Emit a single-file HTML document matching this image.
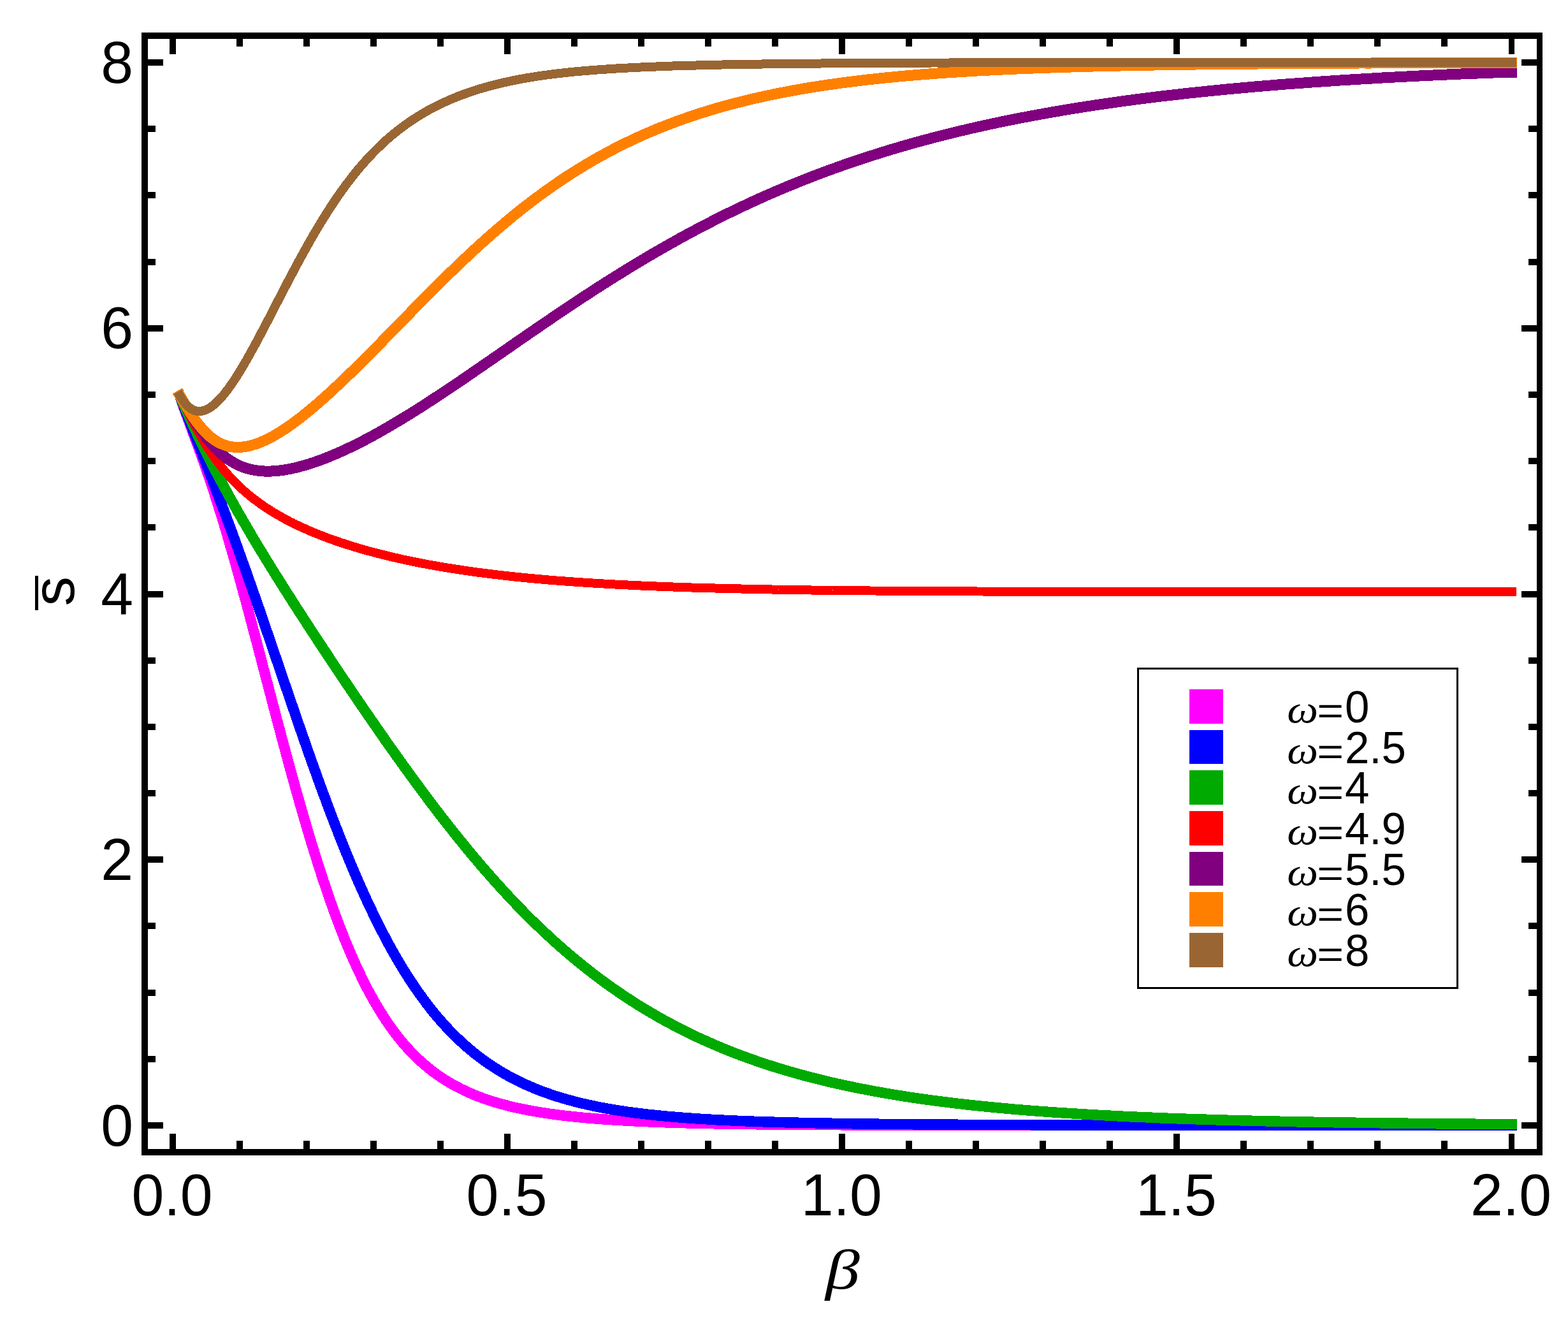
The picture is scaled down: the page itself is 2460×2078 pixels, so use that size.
<!DOCTYPE html>
<html><head><meta charset="utf-8"><title>s vs beta</title>
<style>
html,body{margin:0;padding:0;background:#fff;}
body{width:2460px;height:2078px;overflow:hidden;}
svg{display:block;}
.t{font-family:"Liberation Sans",sans-serif;font-size:90px;fill:#000;}
.l{font-family:"Liberation Sans",sans-serif;font-size:68px;fill:#000;}
.i{font-family:"Liberation Serif",serif;font-style:italic;}
</style></head><body>
<svg width="2460" height="2078" viewBox="0 0 2460 2078">
<rect x="0" y="0" width="2460" height="2078" fill="#fff"/>
<g fill="none" stroke-linejoin="round" stroke-linecap="square" shape-rendering="crispEdges">
<path d="M282.3,621.7 L284.2,627.3 L286.1,632.7 L288.0,638.1 L289.9,643.4 L291.9,648.7 L293.8,653.9 L295.7,659.1 L297.6,664.3 L299.5,669.5 L301.4,674.6 L303.3,679.8 L305.2,685.0 L307.1,690.1 L309.0,695.3 L311.0,700.5 L312.9,705.8 L314.8,711.1 L316.7,716.4 L318.6,721.7 L320.5,727.1 L322.4,732.6 L324.3,738.1 L326.2,743.6 L328.2,749.2 L330.1,754.9 L332.0,760.6 L333.9,766.4 L335.8,772.2 L337.7,778.1 L339.6,784.1 L341.5,790.1 L343.4,796.1 L345.3,802.3 L347.3,808.4 L349.2,814.7 L351.1,821.0 L353.0,827.3 L354.9,833.7 L356.8,840.2 L358.7,846.7 L360.6,853.3 L362.5,859.9 L364.5,866.5 L366.4,873.2 L368.3,880.0 L370.2,886.8 L372.1,893.6 L374.0,900.5 L375.9,907.4 L377.8,914.3 L379.7,921.3 L381.6,928.3 L383.6,935.3 L385.5,942.4 L387.4,949.5 L389.3,956.6 L391.2,963.8 L393.1,970.9 L395.0,978.1 L396.9,985.3 L398.8,992.6 L400.8,999.8 L402.7,1007.1 L404.6,1014.3 L406.5,1021.6 L408.4,1028.9 L410.3,1036.2 L412.2,1043.5 L414.1,1050.8 L416.0,1058.1 L417.9,1065.4 L419.9,1072.7 L421.8,1079.9 L423.7,1087.2 L425.6,1094.5 L427.5,1101.8 L429.4,1109.1 L431.3,1116.3 L433.2,1123.6 L435.1,1130.8 L437.1,1138.0 L439.0,1145.2 L440.9,1152.4 L442.8,1159.6 L444.7,1166.7 L446.6,1173.8 L448.5,1180.9 L450.4,1188.0 L452.3,1195.0 L454.2,1202.0 L456.2,1209.0 L458.1,1216.0 L460.0,1222.9 L461.9,1229.8 L463.8,1236.6 L465.7,1243.4 L467.6,1250.2 L469.5,1256.9 L471.4,1263.7 L473.4,1270.3 L475.3,1276.9 L477.2,1283.5 L479.1,1290.0 L481.0,1296.5 L482.9,1303.0 L484.8,1309.4 L486.7,1315.7 L488.6,1322.0 L490.5,1328.3 L492.5,1334.5 L494.4,1340.6 L496.3,1346.7 L498.2,1352.8 L500.1,1358.8 L502.0,1364.7 L503.9,1370.6 L505.8,1376.4 L507.7,1382.2 L509.7,1387.9 L511.6,1393.6 L513.5,1399.2 L515.4,1404.7 L517.3,1410.2 L519.2,1415.6 L521.1,1421.0 L523.0,1426.3 L524.9,1431.6 L526.8,1436.8 L528.8,1441.9 L530.7,1447.0 L532.6,1452.0 L534.5,1456.9 L536.4,1461.8 L538.3,1466.7 L540.2,1471.5 L542.1,1476.2 L544.0,1480.8 L546.0,1485.4 L547.9,1490.0 L549.8,1494.4 L551.7,1498.9 L553.6,1503.2 L555.5,1507.5 L557.4,1511.7 L559.3,1515.9 L561.2,1520.1 L563.1,1524.1 L565.1,1528.1 L567.0,1532.1 L568.9,1536.0 L570.8,1539.8 L572.7,1543.6 L574.6,1547.3 L576.5,1551.0 L578.4,1554.6 L580.3,1558.1 L582.3,1561.6 L584.2,1565.1 L586.1,1568.5 L589.8,1574.9 L593.5,1581.1 L597.2,1587.1 L600.9,1593.0 L604.5,1598.7 L608.2,1604.1 L611.9,1609.4 L615.6,1614.6 L619.3,1619.5 L623.0,1624.4 L626.7,1629.0 L630.4,1633.5 L634.1,1637.9 L637.8,1642.1 L641.5,1646.1 L645.2,1650.0 L648.9,1653.8 L652.6,1657.5 L656.3,1661.0 L660.0,1664.5 L663.7,1667.8 L667.4,1670.9 L671.0,1674.0 L674.7,1677.0 L678.4,1679.9 L682.1,1682.6 L685.8,1685.3 L689.5,1687.9 L693.2,1690.4 L696.9,1692.8 L700.6,1695.1 L704.3,1697.3 L708.0,1699.5 L711.7,1701.6 L715.4,1703.6 L719.1,1705.5 L722.8,1707.4 L726.5,1709.2 L730.2,1711.0 L733.8,1712.7 L737.5,1714.3 L741.2,1715.9 L744.9,1717.4 L748.6,1718.9 L752.3,1720.3 L756.0,1721.7 L759.7,1723.0 L763.4,1724.3 L767.1,1725.5 L770.8,1726.7 L774.5,1727.9 L778.2,1729.0 L781.9,1730.1 L785.6,1731.1 L789.3,1732.2 L793.0,1733.1 L796.7,1734.1 L800.3,1735.0 L804.0,1735.9 L807.7,1736.8 L811.4,1737.6 L815.1,1738.4 L818.8,1739.2 L822.5,1739.9 L826.2,1740.6 L829.9,1741.4 L833.6,1742.0 L837.3,1742.7 L841.0,1743.3 L844.7,1744.0 L848.4,1744.6 L852.1,1745.2 L855.8,1745.7 L859.5,1746.3 L863.2,1746.8 L866.8,1747.3 L870.5,1747.8 L874.2,1748.3 L877.9,1748.8 L881.6,1749.2 L885.3,1749.7 L889.0,1750.1 L892.7,1750.5 L896.4,1750.9 L900.1,1751.3 L903.8,1751.7 L907.5,1752.1 L911.2,1752.4 L914.9,1752.8 L918.6,1753.1 L922.3,1753.4 L926.0,1753.7 L929.6,1754.1 L933.3,1754.3 L937.0,1754.6 L940.7,1754.9 L944.4,1755.2 L948.1,1755.5 L951.8,1755.7 L955.5,1756.0 L959.2,1756.2 L962.9,1756.5 L966.6,1756.7 L970.3,1756.9 L974.0,1757.1 L977.7,1757.3 L981.4,1757.5 L985.1,1757.7 L988.8,1757.9 L992.5,1758.1 L996.1,1758.3 L999.8,1758.5 L1003.5,1758.7 L1007.2,1758.8 L1010.9,1759.0 L1014.6,1759.2 L1018.3,1759.3 L1022.0,1759.5 L1025.7,1759.6 L1029.4,1759.7 L1033.1,1759.9 L1036.8,1760.0 L1040.5,1760.1 L1044.2,1760.3 L1047.9,1760.4 L1051.6,1760.5 L1055.3,1760.6 L1059.0,1760.8 L1062.6,1760.9 L1066.3,1761.0 L1070.0,1761.1 L1073.7,1761.2 L1077.4,1761.3 L1081.1,1761.4 L1084.8,1761.5 L1088.5,1761.6 L1092.2,1761.6 L1095.9,1761.7 L1099.6,1761.8 L1103.3,1761.9 L1107.0,1762.0 L1110.7,1762.1 L1114.4,1762.1 L1118.1,1762.2 L1121.8,1762.3 L1125.4,1762.3 L1129.1,1762.4 L1132.8,1762.5 L1136.5,1762.5 L1140.2,1762.6 L1143.9,1762.7 L1147.6,1762.7 L1151.3,1762.8 L1155.0,1762.8 L1158.7,1762.9 L1162.4,1762.9 L1166.1,1763.0 L1169.8,1763.0 L1173.5,1763.1 L1177.2,1763.1 L1180.9,1763.2 L1184.6,1763.2 L1188.3,1763.3 L1191.9,1763.3 L1195.6,1763.4 L1199.3,1763.4 L1203.0,1763.4 L1206.7,1763.5 L1210.4,1763.5 L1214.1,1763.5 L1217.8,1763.6 L1221.5,1763.6 L1225.2,1763.6 L1228.9,1763.7 L1232.6,1763.7 L1236.3,1763.7 L1240.0,1763.8 L1243.7,1763.8 L1247.4,1763.8 L1251.1,1763.9 L1254.8,1763.9 L1258.4,1763.9 L1262.1,1763.9 L1265.8,1764.0 L1269.5,1764.0 L1273.2,1764.0 L1276.9,1764.0 L1280.6,1764.0 L1284.3,1764.1 L1288.0,1764.1 L1291.7,1764.1 L1295.4,1764.1 L1299.1,1764.1 L1302.8,1764.2 L1306.5,1764.2 L1310.2,1764.2 L1313.9,1764.2 L1317.6,1764.2 L1321.2,1764.3 L1330.1,1764.3 L1338.9,1764.3 L1347.7,1764.4 L1356.6,1764.4 L1365.4,1764.4 L1374.2,1764.4 L1383.0,1764.5 L1391.9,1764.5 L1400.7,1764.5 L1409.5,1764.5 L1418.3,1764.6 L1427.2,1764.6 L1436.0,1764.6 L1444.8,1764.6 L1453.6,1764.6 L1462.5,1764.6 L1471.3,1764.7 L1480.1,1764.7 L1488.9,1764.7 L1497.8,1764.7 L1506.6,1764.7 L1515.4,1764.7 L1524.2,1764.7 L1533.1,1764.7 L1541.9,1764.7 L1550.7,1764.7 L1559.5,1764.7 L1568.4,1764.8 L1577.2,1764.8 L1586.0,1764.8 L1594.8,1764.8 L1603.7,1764.8 L1612.5,1764.8 L1621.3,1764.8 L1630.1,1764.8 L1639.0,1764.8 L1647.8,1764.8 L1656.6,1764.8 L1665.4,1764.8 L1674.3,1764.8 L1683.1,1764.8 L1691.9,1764.8 L1700.8,1764.8 L1709.6,1764.8 L1718.4,1764.8 L1727.2,1764.8 L1736.1,1764.8 L1744.9,1764.8 L1753.7,1764.8 L1762.5,1764.8 L1771.4,1764.8 L1780.2,1764.8 L1789.0,1764.8 L1797.8,1764.8 L1806.7,1764.8 L1815.5,1764.8 L1824.3,1764.8 L1833.1,1764.8 L1842.0,1764.8 L1850.8,1764.8 L1859.6,1764.8 L1868.4,1764.8 L1877.3,1764.8 L1886.1,1764.8 L1894.9,1764.8 L1903.7,1764.8 L1912.6,1764.8 L1921.4,1764.8 L1930.2,1764.8 L1939.0,1764.8 L1947.9,1764.8 L1956.7,1764.8 L1965.5,1764.8 L1974.3,1764.8 L1983.2,1764.8 L1992.0,1764.8 L2000.8,1764.8 L2009.6,1764.8 L2018.5,1764.8 L2027.3,1764.8 L2036.1,1764.8 L2045.0,1764.8 L2053.8,1764.8 L2062.6,1764.8 L2071.4,1764.8 L2080.3,1764.8 L2089.1,1764.8 L2097.9,1764.8 L2106.7,1764.8 L2115.6,1764.8 L2124.4,1764.8 L2133.2,1764.8 L2142.0,1764.8 L2150.9,1764.8 L2159.7,1764.8 L2168.5,1764.8 L2177.3,1764.8 L2186.2,1764.8 L2195.0,1764.8 L2203.8,1764.8 L2212.6,1764.8 L2221.5,1764.8 L2230.3,1764.8 L2239.1,1764.8 L2247.9,1764.8 L2256.8,1764.8 L2265.6,1764.8 L2274.4,1764.9 L2283.2,1764.9 L2292.1,1764.9 L2300.9,1764.9 L2309.7,1764.9 L2318.5,1764.9 L2327.4,1764.9 L2336.2,1764.9 L2345.0,1764.9 L2353.8,1764.9 L2362.7,1764.9 L2371.5,1764.9" stroke="#ff00ff" stroke-width="16.5"/>
<path d="M282.3,621.5 L284.2,626.5 L286.1,631.5 L288.0,636.5 L289.9,641.5 L291.9,646.4 L293.8,651.4 L295.7,656.3 L297.6,661.2 L299.5,666.1 L301.4,671.0 L303.3,675.9 L305.2,680.8 L307.1,685.7 L309.0,690.6 L311.0,695.5 L312.9,700.4 L314.8,705.3 L316.7,710.2 L318.6,715.1 L320.5,720.0 L322.4,724.9 L324.3,729.9 L326.2,734.8 L328.2,739.7 L330.1,744.7 L332.0,749.7 L333.9,754.7 L335.8,759.6 L337.7,764.6 L339.6,769.7 L341.5,774.7 L343.4,779.7 L345.3,784.8 L347.3,789.9 L349.2,795.0 L351.1,800.1 L353.0,805.2 L354.9,810.3 L356.8,815.5 L358.7,820.6 L360.6,825.8 L362.5,831.0 L364.5,836.2 L366.4,841.5 L368.3,846.7 L370.2,852.0 L372.1,857.2 L374.0,862.5 L375.9,867.8 L377.8,873.2 L379.7,878.5 L381.6,883.9 L383.6,889.2 L385.5,894.6 L387.4,900.0 L389.3,905.4 L391.2,910.8 L393.1,916.3 L395.0,921.7 L396.9,927.2 L398.8,932.6 L400.8,938.1 L402.7,943.6 L404.6,949.1 L406.5,954.6 L408.4,960.2 L410.3,965.7 L412.2,971.3 L414.1,976.8 L416.0,982.4 L417.9,987.9 L419.9,993.5 L421.8,999.1 L423.7,1004.7 L425.6,1010.2 L427.5,1015.8 L429.4,1021.4 L431.3,1027.0 L433.2,1032.6 L435.1,1038.2 L437.1,1043.8 L439.0,1049.4 L440.9,1055.0 L442.8,1060.6 L444.7,1066.3 L446.6,1071.9 L448.5,1077.4 L450.4,1083.0 L452.3,1088.6 L454.2,1094.2 L456.2,1099.8 L458.1,1105.4 L460.0,1110.9 L461.9,1116.5 L463.8,1122.0 L465.7,1127.6 L467.6,1133.1 L469.5,1138.6 L471.4,1144.1 L473.4,1149.6 L475.3,1155.1 L477.2,1160.6 L479.1,1166.1 L481.0,1171.5 L482.9,1176.9 L484.8,1182.4 L486.7,1187.8 L488.6,1193.1 L490.5,1198.5 L492.5,1203.9 L494.4,1209.2 L496.3,1214.5 L498.2,1219.8 L500.1,1225.1 L502.0,1230.3 L503.9,1235.5 L505.8,1240.8 L507.7,1245.9 L509.7,1251.1 L511.6,1256.2 L513.5,1261.4 L515.4,1266.5 L517.3,1271.5 L519.2,1276.6 L521.1,1281.6 L523.0,1286.6 L524.9,1291.5 L526.8,1296.5 L528.8,1301.4 L530.7,1306.3 L532.6,1311.1 L534.5,1315.9 L536.4,1320.7 L538.3,1325.5 L540.2,1330.2 L542.1,1335.0 L544.0,1339.6 L546.0,1344.3 L547.9,1348.9 L549.8,1353.5 L551.7,1358.0 L553.6,1362.6 L555.5,1367.0 L557.4,1371.5 L559.3,1375.9 L561.2,1380.3 L563.1,1384.7 L565.1,1389.0 L567.0,1393.3 L568.9,1397.6 L570.8,1401.8 L572.7,1406.0 L574.6,1410.1 L576.5,1414.3 L578.4,1418.4 L580.3,1422.4 L582.3,1426.4 L584.2,1430.4 L586.1,1434.4 L589.8,1441.9 L593.5,1449.3 L597.2,1456.6 L600.9,1463.8 L604.5,1470.8 L608.2,1477.7 L611.9,1484.5 L615.6,1491.2 L619.3,1497.7 L623.0,1504.1 L626.7,1510.3 L630.4,1516.5 L634.1,1522.5 L637.8,1528.4 L641.5,1534.2 L645.2,1539.8 L648.9,1545.3 L652.6,1550.8 L656.3,1556.1 L660.0,1561.2 L663.7,1566.3 L667.4,1571.3 L671.0,1576.1 L674.7,1580.8 L678.4,1585.5 L682.1,1590.0 L685.8,1594.4 L689.5,1598.7 L693.2,1602.9 L696.9,1607.0 L700.6,1611.1 L704.3,1615.0 L708.0,1618.8 L711.7,1622.5 L715.4,1626.2 L719.1,1629.7 L722.8,1633.2 L726.5,1636.6 L730.2,1639.9 L733.8,1643.1 L737.5,1646.2 L741.2,1649.3 L744.9,1652.3 L748.6,1655.2 L752.3,1658.0 L756.0,1660.8 L759.7,1663.5 L763.4,1666.1 L767.1,1668.7 L770.8,1671.1 L774.5,1673.6 L778.2,1675.9 L781.9,1678.2 L785.6,1680.5 L789.3,1682.7 L793.0,1684.8 L796.7,1686.9 L800.3,1688.9 L804.0,1690.8 L807.7,1692.8 L811.4,1694.6 L815.1,1696.4 L818.8,1698.2 L822.5,1699.9 L826.2,1701.6 L829.9,1703.2 L833.6,1704.8 L837.3,1706.4 L841.0,1707.9 L844.7,1709.3 L848.4,1710.8 L852.1,1712.2 L855.8,1713.5 L859.5,1714.8 L863.2,1716.1 L866.8,1717.4 L870.5,1718.6 L874.2,1719.8 L877.9,1720.9 L881.6,1722.0 L885.3,1723.1 L889.0,1724.2 L892.7,1725.2 L896.4,1726.2 L900.1,1727.2 L903.8,1728.2 L907.5,1729.1 L911.2,1730.0 L914.9,1730.9 L918.6,1731.7 L922.3,1732.5 L926.0,1733.4 L929.6,1734.1 L933.3,1734.9 L937.0,1735.7 L940.7,1736.4 L944.4,1737.1 L948.1,1737.8 L951.8,1738.5 L955.5,1739.1 L959.2,1739.8 L962.9,1740.4 L966.6,1741.0 L970.3,1741.6 L974.0,1742.1 L977.7,1742.7 L981.4,1743.2 L985.1,1743.8 L988.8,1744.3 L992.5,1744.8 L996.1,1745.3 L999.8,1745.7 L1003.5,1746.2 L1007.2,1746.6 L1010.9,1747.1 L1014.6,1747.5 L1018.3,1747.9 L1022.0,1748.3 L1025.7,1748.7 L1029.4,1749.1 L1033.1,1749.5 L1036.8,1749.8 L1040.5,1750.2 L1044.2,1750.5 L1047.9,1750.9 L1051.6,1751.2 L1055.3,1751.5 L1059.0,1751.8 L1062.6,1752.1 L1066.3,1752.4 L1070.0,1752.7 L1073.7,1753.0 L1077.4,1753.3 L1081.1,1753.5 L1084.8,1753.8 L1088.5,1754.1 L1092.2,1754.3 L1095.9,1754.5 L1099.6,1754.8 L1103.3,1755.0 L1107.0,1755.2 L1110.7,1755.4 L1114.4,1755.7 L1118.1,1755.9 L1121.8,1756.1 L1125.4,1756.3 L1129.1,1756.4 L1132.8,1756.6 L1136.5,1756.8 L1140.2,1757.0 L1143.9,1757.2 L1147.6,1757.3 L1151.3,1757.5 L1155.0,1757.7 L1158.7,1757.8 L1162.4,1758.0 L1166.1,1758.1 L1169.8,1758.3 L1173.5,1758.4 L1177.2,1758.5 L1180.9,1758.7 L1184.6,1758.8 L1188.3,1758.9 L1191.9,1759.1 L1195.6,1759.2 L1199.3,1759.3 L1203.0,1759.4 L1206.7,1759.5 L1210.4,1759.6 L1214.1,1759.7 L1217.8,1759.9 L1221.5,1760.0 L1225.2,1760.1 L1228.9,1760.2 L1232.6,1760.3 L1236.3,1760.3 L1240.0,1760.4 L1243.7,1760.5 L1247.4,1760.6 L1251.1,1760.7 L1254.8,1760.8 L1258.4,1760.9 L1262.1,1760.9 L1265.8,1761.0 L1269.5,1761.1 L1273.2,1761.2 L1276.9,1761.2 L1280.6,1761.3 L1284.3,1761.4 L1288.0,1761.5 L1291.7,1761.5 L1295.4,1761.6 L1299.1,1761.7 L1302.8,1761.7 L1306.5,1761.8 L1310.2,1761.8 L1313.9,1761.9 L1317.6,1762.0 L1321.2,1762.0 L1330.1,1762.1 L1338.9,1762.3 L1347.7,1762.4 L1356.6,1762.5 L1365.4,1762.6 L1374.2,1762.7 L1383.0,1762.8 L1391.9,1762.9 L1400.7,1763.0 L1409.5,1763.0 L1418.3,1763.1 L1427.2,1763.2 L1436.0,1763.3 L1444.8,1763.3 L1453.6,1763.4 L1462.5,1763.5 L1471.3,1763.5 L1480.1,1763.6 L1488.9,1763.6 L1497.8,1763.7 L1506.6,1763.8 L1515.4,1763.8 L1524.2,1763.8 L1533.1,1763.9 L1541.9,1763.9 L1550.7,1764.0 L1559.5,1764.0 L1568.4,1764.1 L1577.2,1764.1 L1586.0,1764.1 L1594.8,1764.2 L1603.7,1764.2 L1612.5,1764.2 L1621.3,1764.3 L1630.1,1764.3 L1639.0,1764.3 L1647.8,1764.3 L1656.6,1764.4 L1665.4,1764.4 L1674.3,1764.4 L1683.1,1764.4 L1691.9,1764.5 L1700.8,1764.5 L1709.6,1764.5 L1718.4,1764.5 L1727.2,1764.5 L1736.1,1764.6 L1744.9,1764.6 L1753.7,1764.6 L1762.5,1764.6 L1771.4,1764.6 L1780.2,1764.6 L1789.0,1764.7 L1797.8,1764.7 L1806.7,1764.7 L1815.5,1764.7 L1824.3,1764.7 L1833.1,1764.7 L1842.0,1764.7 L1850.8,1764.7 L1859.6,1764.8 L1868.4,1764.8 L1877.3,1764.8 L1886.1,1764.8 L1894.9,1764.8 L1903.7,1764.8 L1912.6,1764.8 L1921.4,1764.8 L1930.2,1764.8 L1939.0,1764.8 L1947.9,1764.9 L1956.7,1764.9 L1965.5,1764.9 L1974.3,1764.9 L1983.2,1764.9 L1992.0,1764.9 L2000.8,1764.9 L2009.6,1764.9 L2018.5,1764.9 L2027.3,1764.9 L2036.1,1764.9 L2045.0,1764.9 L2053.8,1764.9 L2062.6,1764.9 L2071.4,1764.9 L2080.3,1764.9 L2089.1,1764.9 L2097.9,1765.0 L2106.7,1765.0 L2115.6,1765.0 L2124.4,1765.0 L2133.2,1765.0 L2142.0,1765.0 L2150.9,1765.0 L2159.7,1765.0 L2168.5,1765.0 L2177.3,1765.0 L2186.2,1765.0 L2195.0,1765.0 L2203.8,1765.0 L2212.6,1765.0 L2221.5,1765.0 L2230.3,1765.0 L2239.1,1765.0 L2247.9,1765.0 L2256.8,1765.0 L2265.6,1765.0 L2274.4,1765.0 L2283.2,1765.0 L2292.1,1765.0 L2300.9,1765.0 L2309.7,1765.0 L2318.5,1765.0 L2327.4,1765.0 L2336.2,1765.0 L2345.0,1765.0 L2353.8,1765.0 L2362.7,1765.0 L2371.5,1765.0" stroke="#0000ff" stroke-width="16.5"/>
<path d="M282.3,621.2 L284.2,625.6 L286.1,630.0 L288.0,634.3 L289.9,638.6 L291.9,642.9 L293.8,647.1 L295.7,651.3 L297.6,655.5 L299.5,659.7 L301.4,663.8 L303.3,667.9 L305.2,672.0 L307.1,676.1 L309.0,680.1 L311.0,684.1 L312.9,688.0 L314.8,692.0 L316.7,695.9 L318.6,699.8 L320.5,703.7 L322.4,707.5 L324.3,711.4 L326.2,715.2 L328.2,718.9 L330.1,722.7 L332.0,726.4 L333.9,730.1 L335.8,733.8 L337.7,737.5 L339.6,741.2 L341.5,744.8 L343.4,748.4 L345.3,752.0 L347.3,755.6 L349.2,759.2 L351.1,762.7 L353.0,766.2 L354.9,769.7 L356.8,773.2 L358.7,776.7 L360.6,780.2 L362.5,783.6 L364.5,787.0 L366.4,790.4 L368.3,793.8 L370.2,797.2 L372.1,800.6 L374.0,804.0 L375.9,807.3 L377.8,810.6 L379.7,814.0 L381.6,817.3 L383.6,820.5 L385.5,823.8 L387.4,827.1 L389.3,830.4 L391.2,833.6 L393.1,836.8 L395.0,840.1 L396.9,843.3 L398.8,846.5 L400.8,849.7 L402.7,852.9 L404.6,856.0 L406.5,859.2 L408.4,862.4 L410.3,865.5 L412.2,868.6 L414.1,871.8 L416.0,874.9 L417.9,878.0 L419.9,881.1 L421.8,884.2 L423.7,887.3 L425.6,890.4 L427.5,893.5 L429.4,896.5 L431.3,899.6 L433.2,902.7 L435.1,905.7 L437.1,908.8 L439.0,911.8 L440.9,914.8 L442.8,917.9 L444.7,920.9 L446.6,923.9 L448.5,926.9 L450.4,929.9 L452.3,932.9 L454.2,935.9 L456.2,938.9 L458.1,941.9 L460.0,944.9 L461.9,947.9 L463.8,950.8 L465.7,953.8 L467.6,956.8 L469.5,959.7 L471.4,962.7 L473.4,965.6 L475.3,968.6 L477.2,971.5 L479.1,974.5 L481.0,977.4 L482.9,980.4 L484.8,983.3 L486.7,986.2 L488.6,989.1 L490.5,992.1 L492.5,995.0 L494.4,997.9 L496.3,1000.8 L498.2,1003.7 L500.1,1006.6 L502.0,1009.5 L503.9,1012.4 L505.8,1015.3 L507.7,1018.2 L509.7,1021.1 L511.6,1024.0 L513.5,1026.8 L515.4,1029.7 L517.3,1032.6 L519.2,1035.5 L521.1,1038.3 L523.0,1041.2 L524.9,1044.1 L526.8,1046.9 L528.8,1049.8 L530.7,1052.7 L532.6,1055.5 L534.5,1058.4 L536.4,1061.2 L538.3,1064.1 L540.2,1066.9 L542.1,1069.7 L544.0,1072.6 L546.0,1075.4 L547.9,1078.2 L549.8,1081.1 L551.7,1083.9 L553.6,1086.7 L555.5,1089.5 L557.4,1092.3 L559.3,1095.1 L561.2,1097.9 L563.1,1100.8 L565.1,1103.6 L567.0,1106.4 L568.9,1109.1 L570.8,1111.9 L572.7,1114.7 L574.6,1117.5 L576.5,1120.3 L578.4,1123.1 L580.3,1125.8 L582.3,1128.6 L584.2,1131.4 L586.1,1134.1 L589.8,1139.5 L593.5,1144.8 L597.2,1150.1 L600.9,1155.4 L604.5,1160.7 L608.2,1165.9 L611.9,1171.1 L615.6,1176.4 L619.3,1181.6 L623.0,1186.8 L626.7,1191.9 L630.4,1197.1 L634.1,1202.2 L637.8,1207.3 L641.5,1212.4 L645.2,1217.5 L648.9,1222.6 L652.6,1227.6 L656.3,1232.6 L660.0,1237.6 L663.7,1242.6 L667.4,1247.5 L671.0,1252.5 L674.7,1257.4 L678.4,1262.3 L682.1,1267.1 L685.8,1272.0 L689.5,1276.8 L693.2,1281.6 L696.9,1286.3 L700.6,1291.0 L704.3,1295.8 L708.0,1300.4 L711.7,1305.1 L715.4,1309.7 L719.1,1314.3 L722.8,1318.9 L726.5,1323.4 L730.2,1328.0 L733.8,1332.4 L737.5,1336.9 L741.2,1341.3 L744.9,1345.7 L748.6,1350.1 L752.3,1354.5 L756.0,1358.8 L759.7,1363.1 L763.4,1367.3 L767.1,1371.5 L770.8,1375.7 L774.5,1379.9 L778.2,1384.0 L781.9,1388.1 L785.6,1392.2 L789.3,1396.2 L793.0,1400.3 L796.7,1404.2 L800.3,1408.2 L804.0,1412.1 L807.7,1416.0 L811.4,1419.8 L815.1,1423.6 L818.8,1427.4 L822.5,1431.2 L826.2,1434.9 L829.9,1438.6 L833.6,1442.3 L837.3,1445.9 L841.0,1449.5 L844.7,1453.0 L848.4,1456.6 L852.1,1460.1 L855.8,1463.5 L859.5,1467.0 L863.2,1470.4 L866.8,1473.8 L870.5,1477.1 L874.2,1480.4 L877.9,1483.7 L881.6,1486.9 L885.3,1490.2 L889.0,1493.3 L892.7,1496.5 L896.4,1499.6 L900.1,1502.7 L903.8,1505.8 L907.5,1508.8 L911.2,1511.8 L914.9,1514.8 L918.6,1517.7 L922.3,1520.7 L926.0,1523.5 L929.6,1526.4 L933.3,1529.2 L937.0,1532.0 L940.7,1534.8 L944.4,1537.5 L948.1,1540.2 L951.8,1542.9 L955.5,1545.6 L959.2,1548.2 L962.9,1550.8 L966.6,1553.3 L970.3,1555.9 L974.0,1558.4 L977.7,1560.9 L981.4,1563.4 L985.1,1565.8 L988.8,1568.2 L992.5,1570.6 L996.1,1572.9 L999.8,1575.3 L1003.5,1577.6 L1007.2,1579.8 L1010.9,1582.1 L1014.6,1584.3 L1018.3,1586.5 L1022.0,1588.7 L1025.7,1590.8 L1029.4,1593.0 L1033.1,1595.1 L1036.8,1597.2 L1040.5,1599.2 L1044.2,1601.3 L1047.9,1603.3 L1051.6,1605.2 L1055.3,1607.2 L1059.0,1609.2 L1062.6,1611.1 L1066.3,1613.0 L1070.0,1614.8 L1073.7,1616.7 L1077.4,1618.5 L1081.1,1620.3 L1084.8,1622.1 L1088.5,1623.9 L1092.2,1625.7 L1095.9,1627.4 L1099.6,1629.1 L1103.3,1630.8 L1107.0,1632.4 L1110.7,1634.1 L1114.4,1635.7 L1118.1,1637.3 L1121.8,1638.9 L1125.4,1640.5 L1129.1,1642.0 L1132.8,1643.6 L1136.5,1645.1 L1140.2,1646.6 L1143.9,1648.1 L1147.6,1649.5 L1151.3,1651.0 L1155.0,1652.4 L1158.7,1653.8 L1162.4,1655.2 L1166.1,1656.6 L1169.8,1657.9 L1173.5,1659.3 L1177.2,1660.6 L1180.9,1661.9 L1184.6,1663.2 L1188.3,1664.5 L1191.9,1665.7 L1195.6,1667.0 L1199.3,1668.2 L1203.0,1669.4 L1206.7,1670.6 L1210.4,1671.8 L1214.1,1673.0 L1217.8,1674.1 L1221.5,1675.3 L1225.2,1676.4 L1228.9,1677.5 L1232.6,1678.6 L1236.3,1679.7 L1240.0,1680.8 L1243.7,1681.8 L1247.4,1682.9 L1251.1,1683.9 L1254.8,1684.9 L1258.4,1686.0 L1262.1,1686.9 L1265.8,1687.9 L1269.5,1688.9 L1273.2,1689.9 L1276.9,1690.8 L1280.6,1691.7 L1284.3,1692.7 L1288.0,1693.6 L1291.7,1694.5 L1295.4,1695.4 L1299.1,1696.2 L1302.8,1697.1 L1306.5,1698.0 L1310.2,1698.8 L1313.9,1699.6 L1317.6,1700.5 L1321.2,1701.3 L1330.1,1703.2 L1338.9,1705.0 L1347.7,1706.8 L1356.6,1708.5 L1365.4,1710.2 L1374.2,1711.9 L1383.0,1713.4 L1391.9,1715.0 L1400.7,1716.5 L1409.5,1717.9 L1418.3,1719.3 L1427.2,1720.7 L1436.0,1722.0 L1444.8,1723.3 L1453.6,1724.5 L1462.5,1725.7 L1471.3,1726.9 L1480.1,1728.0 L1488.9,1729.1 L1497.8,1730.2 L1506.6,1731.2 L1515.4,1732.2 L1524.2,1733.2 L1533.1,1734.1 L1541.9,1735.0 L1550.7,1735.9 L1559.5,1736.8 L1568.4,1737.6 L1577.2,1738.4 L1586.0,1739.2 L1594.8,1740.0 L1603.7,1740.7 L1612.5,1741.4 L1621.3,1742.1 L1630.1,1742.8 L1639.0,1743.4 L1647.8,1744.1 L1656.6,1744.7 L1665.4,1745.3 L1674.3,1745.8 L1683.1,1746.4 L1691.9,1746.9 L1700.8,1747.5 L1709.6,1748.0 L1718.4,1748.5 L1727.2,1749.0 L1736.1,1749.4 L1744.9,1749.9 L1753.7,1750.3 L1762.5,1750.8 L1771.4,1751.2 L1780.2,1751.6 L1789.0,1752.0 L1797.8,1752.3 L1806.7,1752.7 L1815.5,1753.1 L1824.3,1753.4 L1833.1,1753.8 L1842.0,1754.1 L1850.8,1754.4 L1859.6,1754.7 L1868.4,1755.0 L1877.3,1755.3 L1886.1,1755.6 L1894.9,1755.8 L1903.7,1756.1 L1912.6,1756.4 L1921.4,1756.6 L1930.2,1756.9 L1939.0,1757.1 L1947.9,1757.3 L1956.7,1757.6 L1965.5,1757.8 L1974.3,1758.0 L1983.2,1758.2 L1992.0,1758.4 L2000.8,1758.6 L2009.6,1758.8 L2018.5,1758.9 L2027.3,1759.1 L2036.1,1759.3 L2045.0,1759.5 L2053.8,1759.6 L2062.6,1759.8 L2071.4,1759.9 L2080.3,1760.1 L2089.1,1760.2 L2097.9,1760.4 L2106.7,1760.5 L2115.6,1760.6 L2124.4,1760.7 L2133.2,1760.9 L2142.0,1761.0 L2150.9,1761.1 L2159.7,1761.2 L2168.5,1761.3 L2177.3,1761.4 L2186.2,1761.5 L2195.0,1761.6 L2203.8,1761.7 L2212.6,1761.8 L2221.5,1761.9 L2230.3,1762.0 L2239.1,1762.1 L2247.9,1762.2 L2256.8,1762.3 L2265.6,1762.4 L2274.4,1762.4 L2283.2,1762.5 L2292.1,1762.6 L2300.9,1762.7 L2309.7,1762.7 L2318.5,1762.8 L2327.4,1762.9 L2336.2,1762.9 L2345.0,1763.0 L2353.8,1763.1 L2362.7,1763.1 L2371.5,1763.1" stroke="#00aa00" stroke-width="16.5"/>
<path d="M282.3,620.9 L284.2,624.8 L286.1,628.7 L288.0,632.6 L289.9,636.5 L291.9,640.3 L293.8,644.2 L295.7,648.0 L297.6,651.8 L299.5,655.5 L301.4,659.2 L303.3,662.9 L305.2,666.5 L307.1,670.1 L309.0,673.6 L311.0,677.0 L312.9,680.4 L314.8,683.8 L316.7,687.1 L318.6,690.3 L320.5,693.5 L322.4,696.6 L324.3,699.7 L326.2,702.7 L328.2,705.6 L330.1,708.5 L332.0,711.4 L333.9,714.1 L335.8,716.9 L337.7,719.5 L339.6,722.2 L341.5,724.7 L343.4,727.3 L345.3,729.7 L347.3,732.2 L349.2,734.5 L351.1,736.9 L353.0,739.2 L354.9,741.4 L356.8,743.6 L358.7,745.8 L360.6,747.9 L362.5,749.9 L364.5,752.0 L366.4,754.0 L368.3,755.9 L370.2,757.9 L372.1,759.8 L374.0,761.6 L375.9,763.4 L377.8,765.2 L379.7,767.0 L381.6,768.7 L383.6,770.4 L385.5,772.1 L387.4,773.7 L389.3,775.3 L391.2,776.9 L393.1,778.5 L395.0,780.0 L396.9,781.5 L398.8,783.0 L400.8,784.4 L402.7,785.9 L404.6,787.3 L406.5,788.7 L408.4,790.0 L410.3,791.4 L412.2,792.7 L414.1,794.0 L416.0,795.3 L417.9,796.6 L419.9,797.8 L421.8,799.1 L423.7,800.3 L425.6,801.5 L427.5,802.7 L429.4,803.8 L431.3,805.0 L433.2,806.1 L435.1,807.2 L437.1,808.4 L439.0,809.4 L440.9,810.5 L442.8,811.6 L444.7,812.6 L446.6,813.7 L448.5,814.7 L450.4,815.7 L452.3,816.7 L454.2,817.7 L456.2,818.7 L458.1,819.6 L460.0,820.6 L461.9,821.5 L463.8,822.5 L465.7,823.4 L467.6,824.3 L469.5,825.2 L471.4,826.1 L473.4,827.0 L475.3,827.8 L477.2,828.7 L479.1,829.5 L481.0,830.4 L482.9,831.2 L484.8,832.1 L486.7,832.9 L488.6,833.7 L490.5,834.5 L492.5,835.3 L494.4,836.1 L496.3,836.8 L498.2,837.6 L500.1,838.4 L502.0,839.1 L503.9,839.9 L505.8,840.6 L507.7,841.3 L509.7,842.0 L511.6,842.8 L513.5,843.5 L515.4,844.2 L517.3,844.9 L519.2,845.6 L521.1,846.2 L523.0,846.9 L524.9,847.6 L526.8,848.3 L528.8,848.9 L530.7,849.6 L532.6,850.2 L534.5,850.9 L536.4,851.5 L538.3,852.1 L540.2,852.8 L542.1,853.4 L544.0,854.0 L546.0,854.6 L547.9,855.2 L549.8,855.8 L551.7,856.4 L553.6,857.0 L555.5,857.6 L557.4,858.1 L559.3,858.7 L561.2,859.3 L563.1,859.8 L565.1,860.4 L567.0,861.0 L568.9,861.5 L570.8,862.0 L572.7,862.6 L574.6,863.1 L576.5,863.7 L578.4,864.2 L580.3,864.7 L582.3,865.2 L584.2,865.7 L586.1,866.2 L589.8,867.2 L593.5,868.2 L597.2,869.1 L600.9,870.0 L604.5,871.0 L608.2,871.8 L611.9,872.7 L615.6,873.6 L619.3,874.5 L623.0,875.3 L626.7,876.1 L630.4,877.0 L634.1,877.8 L637.8,878.6 L641.5,879.3 L645.2,880.1 L648.9,880.9 L652.6,881.6 L656.3,882.3 L660.0,883.1 L663.7,883.8 L667.4,884.5 L671.0,885.2 L674.7,885.8 L678.4,886.5 L682.1,887.2 L685.8,887.8 L689.5,888.5 L693.2,889.1 L696.9,889.7 L700.6,890.3 L704.3,890.9 L708.0,891.5 L711.7,892.1 L715.4,892.7 L719.1,893.2 L722.8,893.8 L726.5,894.3 L730.2,894.9 L733.8,895.4 L737.5,895.9 L741.2,896.5 L744.9,897.0 L748.6,897.5 L752.3,898.0 L756.0,898.4 L759.7,898.9 L763.4,899.4 L767.1,899.8 L770.8,900.3 L774.5,900.8 L778.2,901.2 L781.9,901.6 L785.6,902.1 L789.3,902.5 L793.0,902.9 L796.7,903.3 L800.3,903.7 L804.0,904.1 L807.7,904.5 L811.4,904.9 L815.1,905.3 L818.8,905.6 L822.5,906.0 L826.2,906.4 L829.9,906.7 L833.6,907.1 L837.3,907.4 L841.0,907.7 L844.7,908.1 L848.4,908.4 L852.1,908.7 L855.8,909.0 L859.5,909.4 L863.2,909.7 L866.8,910.0 L870.5,910.3 L874.2,910.6 L877.9,910.9 L881.6,911.1 L885.3,911.4 L889.0,911.7 L892.7,912.0 L896.4,912.2 L900.1,912.5 L903.8,912.8 L907.5,913.0 L911.2,913.3 L914.9,913.5 L918.6,913.7 L922.3,914.0 L926.0,914.2 L929.6,914.5 L933.3,914.7 L937.0,914.9 L940.7,915.1 L944.4,915.3 L948.1,915.6 L951.8,915.8 L955.5,916.0 L959.2,916.2 L962.9,916.4 L966.6,916.6 L970.3,916.8 L974.0,917.0 L977.7,917.2 L981.4,917.3 L985.1,917.5 L988.8,917.7 L992.5,917.9 L996.1,918.0 L999.8,918.2 L1003.5,918.4 L1007.2,918.6 L1010.9,918.7 L1014.6,918.9 L1018.3,919.0 L1022.0,919.2 L1025.7,919.3 L1029.4,919.5 L1033.1,919.6 L1036.8,919.8 L1040.5,919.9 L1044.2,920.1 L1047.9,920.2 L1051.6,920.3 L1055.3,920.5 L1059.0,920.6 L1062.6,920.7 L1066.3,920.9 L1070.0,921.0 L1073.7,921.1 L1077.4,921.2 L1081.1,921.4 L1084.8,921.5 L1088.5,921.6 L1092.2,921.7 L1095.9,921.8 L1099.6,921.9 L1103.3,922.0 L1107.0,922.1 L1110.7,922.2 L1114.4,922.3 L1118.1,922.4 L1121.8,922.5 L1125.4,922.6 L1129.1,922.7 L1132.8,922.8 L1136.5,922.9 L1140.2,923.0 L1143.9,923.1 L1147.6,923.2 L1151.3,923.3 L1155.0,923.4 L1158.7,923.4 L1162.4,923.5 L1166.1,923.6 L1169.8,923.7 L1173.5,923.8 L1177.2,923.9 L1180.9,923.9 L1184.6,924.0 L1188.3,924.1 L1191.9,924.1 L1195.6,924.2 L1199.3,924.3 L1203.0,924.4 L1206.7,924.4 L1210.4,924.5 L1214.1,924.6 L1217.8,924.6 L1221.5,924.7 L1225.2,924.7 L1228.9,924.8 L1232.6,924.9 L1236.3,924.9 L1240.0,925.0 L1243.7,925.0 L1247.4,925.1 L1251.1,925.2 L1254.8,925.2 L1258.4,925.3 L1262.1,925.3 L1265.8,925.4 L1269.5,925.4 L1273.2,925.5 L1276.9,925.5 L1280.6,925.6 L1284.3,925.6 L1288.0,925.7 L1291.7,925.7 L1295.4,925.7 L1299.1,925.8 L1302.8,925.8 L1306.5,925.9 L1310.2,925.9 L1313.9,926.0 L1317.6,926.0 L1321.2,926.0 L1330.1,926.1 L1338.9,926.2 L1347.7,926.3 L1356.6,926.4 L1365.4,926.5 L1374.2,926.5 L1383.0,926.6 L1391.9,926.7 L1400.7,926.7 L1409.5,926.8 L1418.3,926.9 L1427.2,926.9 L1436.0,927.0 L1444.8,927.0 L1453.6,927.1 L1462.5,927.1 L1471.3,927.2 L1480.1,927.2 L1488.9,927.3 L1497.8,927.3 L1506.6,927.4 L1515.4,927.4 L1524.2,927.4 L1533.1,927.5 L1541.9,927.5 L1550.7,927.5 L1559.5,927.6 L1568.4,927.6 L1577.2,927.6 L1586.0,927.6 L1594.8,927.7 L1603.7,927.7 L1612.5,927.7 L1621.3,927.7 L1630.1,927.7 L1639.0,927.8 L1647.8,927.8 L1656.6,927.8 L1665.4,927.8 L1674.3,927.8 L1683.1,927.8 L1691.9,927.9 L1700.8,927.9 L1709.6,927.9 L1718.4,927.9 L1727.2,927.9 L1736.1,927.9 L1744.9,927.9 L1753.7,927.9 L1762.5,927.9 L1771.4,928.0 L1780.2,928.0 L1789.0,928.0 L1797.8,928.0 L1806.7,928.0 L1815.5,928.0 L1824.3,928.0 L1833.1,928.0 L1842.0,928.0 L1850.8,928.0 L1859.6,928.0 L1868.4,928.0 L1877.3,928.0 L1886.1,928.0 L1894.9,928.0 L1903.7,928.0 L1912.6,928.0 L1921.4,928.0 L1930.2,928.0 L1939.0,928.0 L1947.9,928.0 L1956.7,928.0 L1965.5,928.0 L1974.3,928.0 L1983.2,928.0 L1992.0,928.0 L2000.8,928.0 L2009.6,928.0 L2018.5,928.0 L2027.3,928.0 L2036.1,928.0 L2045.0,928.0 L2053.8,928.0 L2062.6,928.0 L2071.4,928.0 L2080.3,928.0 L2089.1,928.0 L2097.9,928.0 L2106.7,928.0 L2115.6,928.0 L2124.4,928.0 L2133.2,928.0 L2142.0,928.0 L2150.9,928.0 L2159.7,928.0 L2168.5,928.0 L2177.3,928.0 L2186.2,928.0 L2195.0,928.0 L2203.8,928.0 L2212.6,928.0 L2221.5,928.0 L2230.3,928.0 L2239.1,928.0 L2247.9,928.0 L2256.8,928.0 L2265.6,928.0 L2274.4,928.0 L2283.2,928.0 L2292.1,928.0 L2300.9,928.0 L2309.7,928.0 L2318.5,928.0 L2327.4,928.0 L2336.2,928.0 L2345.0,928.0 L2353.8,928.0 L2362.7,928.0 L2371.5,928.0" stroke="#ff0000" stroke-width="14"/>
<path d="M282.3,620.7 L284.2,624.1 L286.1,627.4 L288.0,630.8 L289.9,634.1 L291.9,637.4 L293.8,640.6 L295.7,643.9 L297.6,647.1 L299.5,650.3 L301.4,653.4 L303.3,656.5 L305.2,659.5 L307.1,662.5 L309.0,665.4 L311.0,668.3 L312.9,671.2 L314.8,674.0 L316.7,676.7 L318.6,679.3 L320.5,682.0 L322.4,684.5 L324.3,687.0 L326.2,689.4 L328.2,691.8 L330.1,694.0 L332.0,696.3 L333.9,698.4 L335.8,700.5 L337.7,702.6 L339.6,704.5 L341.5,706.4 L343.4,708.3 L345.3,710.0 L347.3,711.7 L349.2,713.4 L351.1,715.0 L353.0,716.5 L354.9,718.0 L356.8,719.4 L358.7,720.7 L360.6,722.0 L362.5,723.2 L364.5,724.4 L366.4,725.5 L368.3,726.6 L370.2,727.6 L372.1,728.6 L374.0,729.5 L375.9,730.3 L377.8,731.2 L379.7,731.9 L381.6,732.6 L383.6,733.3 L385.5,734.0 L387.4,734.6 L389.3,735.1 L391.2,735.6 L393.1,736.1 L395.0,736.5 L396.9,736.9 L398.8,737.3 L400.8,737.6 L402.7,737.9 L404.6,738.1 L406.5,738.4 L408.4,738.6 L410.3,738.7 L412.2,738.9 L414.1,739.0 L416.0,739.0 L417.9,739.1 L419.9,739.1 L421.8,739.1 L423.7,739.1 L425.6,739.0 L427.5,738.9 L429.4,738.8 L431.3,738.7 L433.2,738.5 L435.1,738.4 L437.1,738.2 L439.0,737.9 L440.9,737.7 L442.8,737.5 L444.7,737.2 L446.6,736.9 L448.5,736.6 L450.4,736.2 L452.3,735.9 L454.2,735.5 L456.2,735.2 L458.1,734.8 L460.0,734.3 L461.9,733.9 L463.8,733.5 L465.7,733.0 L467.6,732.5 L469.5,732.1 L471.4,731.5 L473.4,731.0 L475.3,730.5 L477.2,730.0 L479.1,729.4 L481.0,728.8 L482.9,728.3 L484.8,727.7 L486.7,727.1 L488.6,726.4 L490.5,725.8 L492.5,725.2 L494.4,724.5 L496.3,723.9 L498.2,723.2 L500.1,722.5 L502.0,721.8 L503.9,721.1 L505.8,720.4 L507.7,719.7 L509.7,718.9 L511.6,718.2 L513.5,717.4 L515.4,716.7 L517.3,715.9 L519.2,715.1 L521.1,714.3 L523.0,713.5 L524.9,712.7 L526.8,711.9 L528.8,711.0 L530.7,710.2 L532.6,709.4 L534.5,708.5 L536.4,707.7 L538.3,706.8 L540.2,705.9 L542.1,705.0 L544.0,704.1 L546.0,703.2 L547.9,702.3 L549.8,701.4 L551.7,700.5 L553.6,699.6 L555.5,698.6 L557.4,697.7 L559.3,696.7 L561.2,695.8 L563.1,694.8 L565.1,693.8 L567.0,692.8 L568.9,691.9 L570.8,690.9 L572.7,689.9 L574.6,688.9 L576.5,687.9 L578.4,686.8 L580.3,685.8 L582.3,684.8 L584.2,683.8 L586.1,682.7 L589.8,680.7 L593.5,678.6 L597.2,676.6 L600.9,674.5 L604.5,672.4 L608.2,670.2 L611.9,668.1 L615.6,665.9 L619.3,663.7 L623.0,661.5 L626.7,659.3 L630.4,657.1 L634.1,654.8 L637.8,652.6 L641.5,650.3 L645.2,648.0 L648.9,645.7 L652.6,643.4 L656.3,641.0 L660.0,638.7 L663.7,636.3 L667.4,633.9 L671.0,631.6 L674.7,629.2 L678.4,626.8 L682.1,624.3 L685.8,621.9 L689.5,619.5 L693.2,617.0 L696.9,614.6 L700.6,612.1 L704.3,609.6 L708.0,607.2 L711.7,604.7 L715.4,602.2 L719.1,599.7 L722.8,597.2 L726.5,594.7 L730.2,592.2 L733.8,589.6 L737.5,587.1 L741.2,584.6 L744.9,582.0 L748.6,579.5 L752.3,577.0 L756.0,574.4 L759.7,571.9 L763.4,569.3 L767.1,566.8 L770.8,564.2 L774.5,561.7 L778.2,559.1 L781.9,556.5 L785.6,554.0 L789.3,551.4 L793.0,548.9 L796.7,546.3 L800.3,543.8 L804.0,541.2 L807.7,538.6 L811.4,536.1 L815.1,533.5 L818.8,531.0 L822.5,528.4 L826.2,525.9 L829.9,523.3 L833.6,520.8 L837.3,518.3 L841.0,515.7 L844.7,513.2 L848.4,510.7 L852.1,508.1 L855.8,505.6 L859.5,503.1 L863.2,500.6 L866.8,498.1 L870.5,495.6 L874.2,493.1 L877.9,490.6 L881.6,488.1 L885.3,485.6 L889.0,483.2 L892.7,480.7 L896.4,478.2 L900.1,475.8 L903.8,473.3 L907.5,470.9 L911.2,468.5 L914.9,466.0 L918.6,463.6 L922.3,461.2 L926.0,458.8 L929.6,456.4 L933.3,454.0 L937.0,451.6 L940.7,449.2 L944.4,446.9 L948.1,444.5 L951.8,442.2 L955.5,439.8 L959.2,437.5 L962.9,435.2 L966.6,432.9 L970.3,430.6 L974.0,428.3 L977.7,426.0 L981.4,423.7 L985.1,421.4 L988.8,419.2 L992.5,416.9 L996.1,414.7 L999.8,412.5 L1003.5,410.3 L1007.2,408.0 L1010.9,405.8 L1014.6,403.7 L1018.3,401.5 L1022.0,399.3 L1025.7,397.2 L1029.4,395.0 L1033.1,392.9 L1036.8,390.7 L1040.5,388.6 L1044.2,386.5 L1047.9,384.4 L1051.6,382.3 L1055.3,380.3 L1059.0,378.2 L1062.6,376.1 L1066.3,374.1 L1070.0,372.1 L1073.7,370.1 L1077.4,368.0 L1081.1,366.1 L1084.8,364.1 L1088.5,362.1 L1092.2,360.1 L1095.9,358.2 L1099.6,356.2 L1103.3,354.3 L1107.0,352.4 L1110.7,350.5 L1114.4,348.6 L1118.1,346.7 L1121.8,344.8 L1125.4,342.9 L1129.1,341.1 L1132.8,339.2 L1136.5,337.4 L1140.2,335.6 L1143.9,333.8 L1147.6,332.0 L1151.3,330.2 L1155.0,328.4 L1158.7,326.7 L1162.4,324.9 L1166.1,323.2 L1169.8,321.4 L1173.5,319.7 L1177.2,318.0 L1180.9,316.3 L1184.6,314.6 L1188.3,312.9 L1191.9,311.3 L1195.6,309.6 L1199.3,308.0 L1203.0,306.3 L1206.7,304.7 L1210.4,303.1 L1214.1,301.5 L1217.8,299.9 L1221.5,298.3 L1225.2,296.8 L1228.9,295.2 L1232.6,293.7 L1236.3,292.1 L1240.0,290.6 L1243.7,289.1 L1247.4,287.6 L1251.1,286.1 L1254.8,284.6 L1258.4,283.1 L1262.1,281.7 L1265.8,280.2 L1269.5,278.8 L1273.2,277.3 L1276.9,275.9 L1280.6,274.5 L1284.3,273.1 L1288.0,271.7 L1291.7,270.3 L1295.4,268.9 L1299.1,267.6 L1302.8,266.2 L1306.5,264.9 L1310.2,263.6 L1313.9,262.2 L1317.6,260.9 L1321.2,259.6 L1330.1,256.5 L1338.9,253.5 L1347.7,250.5 L1356.6,247.6 L1365.4,244.8 L1374.2,242.0 L1383.0,239.2 L1391.9,236.5 L1400.7,233.8 L1409.5,231.2 L1418.3,228.6 L1427.2,226.1 L1436.0,223.6 L1444.8,221.2 L1453.6,218.8 L1462.5,216.5 L1471.3,214.2 L1480.1,212.0 L1488.9,209.7 L1497.8,207.6 L1506.6,205.4 L1515.4,203.4 L1524.2,201.3 L1533.1,199.3 L1541.9,197.3 L1550.7,195.4 L1559.5,193.5 L1568.4,191.6 L1577.2,189.8 L1586.0,188.0 L1594.8,186.3 L1603.7,184.5 L1612.5,182.9 L1621.3,181.2 L1630.1,179.6 L1639.0,178.0 L1647.8,176.4 L1656.6,174.9 L1665.4,173.4 L1674.3,171.9 L1683.1,170.4 L1691.9,169.0 L1700.8,167.6 L1709.6,166.3 L1718.4,164.9 L1727.2,163.6 L1736.1,162.3 L1744.9,161.1 L1753.7,159.8 L1762.5,158.6 L1771.4,157.4 L1780.2,156.2 L1789.0,155.1 L1797.8,154.0 L1806.7,152.9 L1815.5,151.8 L1824.3,150.7 L1833.1,149.7 L1842.0,148.7 L1850.8,147.7 L1859.6,146.7 L1868.4,145.7 L1877.3,144.8 L1886.1,143.9 L1894.9,143.0 L1903.7,142.1 L1912.6,141.2 L1921.4,140.3 L1930.2,139.5 L1939.0,138.7 L1947.9,137.9 L1956.7,137.1 L1965.5,136.3 L1974.3,135.5 L1983.2,134.8 L1992.0,134.1 L2000.8,133.3 L2009.6,132.6 L2018.5,131.9 L2027.3,131.3 L2036.1,130.6 L2045.0,130.0 L2053.8,129.3 L2062.6,128.7 L2071.4,128.1 L2080.3,127.5 L2089.1,126.9 L2097.9,126.3 L2106.7,125.7 L2115.6,125.2 L2124.4,124.6 L2133.2,124.1 L2142.0,123.6 L2150.9,123.1 L2159.7,122.5 L2168.5,122.0 L2177.3,121.6 L2186.2,121.1 L2195.0,120.6 L2203.8,120.2 L2212.6,119.7 L2221.5,119.3 L2230.3,118.8 L2239.1,118.4 L2247.9,118.0 L2256.8,117.6 L2265.6,117.2 L2274.4,116.8 L2283.2,116.4 L2292.1,116.0 L2300.9,115.7 L2309.7,115.3 L2318.5,115.0 L2327.4,114.6 L2336.2,114.3 L2345.0,113.9 L2353.8,113.6 L2362.7,113.6 L2371.5,113.6" stroke="#800080" stroke-width="17"/>
<path d="M282.3,620.5 L284.2,623.8 L286.1,627.1 L288.0,630.3 L289.9,633.5 L291.9,636.7 L293.8,639.8 L295.7,642.9 L297.6,645.9 L299.5,648.8 L301.4,651.7 L303.3,654.5 L305.2,657.2 L307.1,659.9 L309.0,662.5 L311.0,665.0 L312.9,667.4 L314.8,669.7 L316.7,671.9 L318.6,674.1 L320.5,676.1 L322.4,678.1 L324.3,680.0 L326.2,681.8 L328.2,683.5 L330.1,685.1 L332.0,686.7 L333.9,688.1 L335.8,689.5 L337.7,690.8 L339.6,692.0 L341.5,693.1 L343.4,694.2 L345.3,695.1 L347.3,696.0 L349.2,696.8 L351.1,697.6 L353.0,698.2 L354.9,698.9 L356.8,699.4 L358.7,699.9 L360.6,700.3 L362.5,700.6 L364.5,700.9 L366.4,701.1 L368.3,701.3 L370.2,701.4 L372.1,701.4 L374.0,701.4 L375.9,701.4 L377.8,701.3 L379.7,701.1 L381.6,700.9 L383.6,700.7 L385.5,700.4 L387.4,700.0 L389.3,699.7 L391.2,699.2 L393.1,698.8 L395.0,698.3 L396.9,697.7 L398.8,697.1 L400.8,696.5 L402.7,695.9 L404.6,695.2 L406.5,694.5 L408.4,693.7 L410.3,692.9 L412.2,692.1 L414.1,691.3 L416.0,690.4 L417.9,689.5 L419.9,688.6 L421.8,687.6 L423.7,686.6 L425.6,685.6 L427.5,684.6 L429.4,683.5 L431.3,682.4 L433.2,681.3 L435.1,680.2 L437.1,679.0 L439.0,677.9 L440.9,676.7 L442.8,675.4 L444.7,674.2 L446.6,672.9 L448.5,671.7 L450.4,670.4 L452.3,669.1 L454.2,667.7 L456.2,666.4 L458.1,665.0 L460.0,663.6 L461.9,662.2 L463.8,660.8 L465.7,659.4 L467.6,657.9 L469.5,656.5 L471.4,655.0 L473.4,653.5 L475.3,652.0 L477.2,650.5 L479.1,648.9 L481.0,647.4 L482.9,645.8 L484.8,644.3 L486.7,642.7 L488.6,641.1 L490.5,639.5 L492.5,637.9 L494.4,636.2 L496.3,634.6 L498.2,633.0 L500.1,631.3 L502.0,629.6 L503.9,627.9 L505.8,626.3 L507.7,624.6 L509.7,622.8 L511.6,621.1 L513.5,619.4 L515.4,617.7 L517.3,615.9 L519.2,614.2 L521.1,612.4 L523.0,610.6 L524.9,608.9 L526.8,607.1 L528.8,605.3 L530.7,603.5 L532.6,601.7 L534.5,599.9 L536.4,598.1 L538.3,596.3 L540.2,594.4 L542.1,592.6 L544.0,590.8 L546.0,588.9 L547.9,587.1 L549.8,585.2 L551.7,583.3 L553.6,581.5 L555.5,579.6 L557.4,577.7 L559.3,575.8 L561.2,574.0 L563.1,572.1 L565.1,570.2 L567.0,568.3 L568.9,566.4 L570.8,564.5 L572.7,562.6 L574.6,560.6 L576.5,558.7 L578.4,556.8 L580.3,554.9 L582.3,553.0 L584.2,551.0 L586.1,549.1 L589.8,545.4 L593.5,541.6 L597.2,537.9 L600.9,534.1 L604.5,530.3 L608.2,526.6 L611.9,522.8 L615.6,519.0 L619.3,515.2 L623.0,511.5 L626.7,507.7 L630.4,503.9 L634.1,500.1 L637.8,496.3 L641.5,492.6 L645.2,488.8 L648.9,485.0 L652.6,481.3 L656.3,477.5 L660.0,473.8 L663.7,470.0 L667.4,466.3 L671.0,462.6 L674.7,458.9 L678.4,455.2 L682.1,451.5 L685.8,447.8 L689.5,444.2 L693.2,440.5 L696.9,436.9 L700.6,433.2 L704.3,429.6 L708.0,426.0 L711.7,422.5 L715.4,418.9 L719.1,415.4 L722.8,411.8 L726.5,408.3 L730.2,404.8 L733.8,401.4 L737.5,397.9 L741.2,394.5 L744.9,391.1 L748.6,387.7 L752.3,384.3 L756.0,381.0 L759.7,377.7 L763.4,374.4 L767.1,371.1 L770.8,367.8 L774.5,364.6 L778.2,361.4 L781.9,358.2 L785.6,355.1 L789.3,351.9 L793.0,348.8 L796.7,345.7 L800.3,342.7 L804.0,339.6 L807.7,336.6 L811.4,333.6 L815.1,330.7 L818.8,327.7 L822.5,324.8 L826.2,322.0 L829.9,319.1 L833.6,316.3 L837.3,313.5 L841.0,310.7 L844.7,308.0 L848.4,305.2 L852.1,302.5 L855.8,299.9 L859.5,297.2 L863.2,294.6 L866.8,292.0 L870.5,289.5 L874.2,286.9 L877.9,284.4 L881.6,281.9 L885.3,279.5 L889.0,277.0 L892.7,274.6 L896.4,272.3 L900.1,269.9 L903.8,267.6 L907.5,265.3 L911.2,263.0 L914.9,260.8 L918.6,258.5 L922.3,256.3 L926.0,254.2 L929.6,252.0 L933.3,249.9 L937.0,247.8 L940.7,245.7 L944.4,243.7 L948.1,241.7 L951.8,239.7 L955.5,237.7 L959.2,235.7 L962.9,233.8 L966.6,231.9 L970.3,230.0 L974.0,228.2 L977.7,226.3 L981.4,224.5 L985.1,222.7 L988.8,221.0 L992.5,219.2 L996.1,217.5 L999.8,215.8 L1003.5,214.1 L1007.2,212.5 L1010.9,210.8 L1014.6,209.2 L1018.3,207.6 L1022.0,206.0 L1025.7,204.5 L1029.4,202.9 L1033.1,201.4 L1036.8,199.9 L1040.5,198.5 L1044.2,197.0 L1047.9,195.6 L1051.6,194.2 L1055.3,192.8 L1059.0,191.4 L1062.6,190.0 L1066.3,188.7 L1070.0,187.4 L1073.7,186.1 L1077.4,184.8 L1081.1,183.5 L1084.8,182.2 L1088.5,181.0 L1092.2,179.8 L1095.9,178.6 L1099.6,177.4 L1103.3,176.2 L1107.0,175.1 L1110.7,173.9 L1114.4,172.8 L1118.1,171.7 L1121.8,170.6 L1125.4,169.5 L1129.1,168.5 L1132.8,167.4 L1136.5,166.4 L1140.2,165.4 L1143.9,164.4 L1147.6,163.4 L1151.3,162.4 L1155.0,161.5 L1158.7,160.5 L1162.4,159.6 L1166.1,158.7 L1169.8,157.8 L1173.5,156.9 L1177.2,156.0 L1180.9,155.1 L1184.6,154.2 L1188.3,153.4 L1191.9,152.6 L1195.6,151.8 L1199.3,150.9 L1203.0,150.1 L1206.7,149.4 L1210.4,148.6 L1214.1,147.8 L1217.8,147.1 L1221.5,146.3 L1225.2,145.6 L1228.9,144.9 L1232.6,144.2 L1236.3,143.5 L1240.0,142.8 L1243.7,142.1 L1247.4,141.4 L1251.1,140.8 L1254.8,140.1 L1258.4,139.5 L1262.1,138.8 L1265.8,138.2 L1269.5,137.6 L1273.2,137.0 L1276.9,136.4 L1280.6,135.8 L1284.3,135.3 L1288.0,134.7 L1291.7,134.1 L1295.4,133.6 L1299.1,133.0 L1302.8,132.5 L1306.5,132.0 L1310.2,131.4 L1313.9,130.9 L1317.6,130.4 L1321.2,129.9 L1330.1,128.8 L1338.9,127.7 L1347.7,126.6 L1356.6,125.5 L1365.4,124.5 L1374.2,123.6 L1383.0,122.6 L1391.9,121.7 L1400.7,120.9 L1409.5,120.0 L1418.3,119.2 L1427.2,118.5 L1436.0,117.7 L1444.8,117.0 L1453.6,116.3 L1462.5,115.6 L1471.3,115.0 L1480.1,114.3 L1488.9,113.7 L1497.8,113.2 L1506.6,112.6 L1515.4,112.1 L1524.2,111.5 L1533.1,111.0 L1541.9,110.6 L1550.7,110.1 L1559.5,109.7 L1568.4,109.2 L1577.2,108.8 L1586.0,108.4 L1594.8,108.0 L1603.7,107.7 L1612.5,107.3 L1621.3,107.0 L1630.1,106.6 L1639.0,106.3 L1647.8,106.0 L1656.6,105.7 L1665.4,105.4 L1674.3,105.2 L1683.1,104.9 L1691.9,104.6 L1700.8,104.4 L1709.6,104.2 L1718.4,103.9 L1727.2,103.7 L1736.1,103.5 L1744.9,103.3 L1753.7,103.1 L1762.5,102.9 L1771.4,102.7 L1780.2,102.6 L1789.0,102.4 L1797.8,102.2 L1806.7,102.1 L1815.5,101.9 L1824.3,101.8 L1833.1,101.6 L1842.0,101.5 L1850.8,101.4 L1859.6,101.3 L1868.4,101.1 L1877.3,101.0 L1886.1,100.9 L1894.9,100.8 L1903.7,100.7 L1912.6,100.6 L1921.4,100.5 L1930.2,100.4 L1939.0,100.3 L1947.9,100.2 L1956.7,100.2 L1965.5,100.1 L1974.3,100.0 L1983.2,99.9 L1992.0,99.9 L2000.8,99.8 L2009.6,99.7 L2018.5,99.7 L2027.3,99.6 L2036.1,99.6 L2045.0,99.5 L2053.8,99.4 L2062.6,99.4 L2071.4,99.3 L2080.3,99.3 L2089.1,99.3 L2097.9,99.2 L2106.7,99.2 L2115.6,99.1 L2124.4,99.1 L2133.2,99.0 L2142.0,99.0 L2150.9,99.0 L2159.7,98.9 L2168.5,98.9 L2177.3,98.9 L2186.2,98.9 L2195.0,98.8 L2203.8,98.8 L2212.6,98.8 L2221.5,98.7 L2230.3,98.7 L2239.1,98.7 L2247.9,98.7 L2256.8,98.6 L2265.6,98.6 L2274.4,98.6 L2283.2,98.6 L2292.1,98.6 L2300.9,98.5 L2309.7,98.5 L2318.5,98.5 L2327.4,98.5 L2336.2,98.5 L2345.0,98.5 L2353.8,98.5 L2362.7,98.5 L2371.5,98.5" stroke="#ff8000" stroke-width="17"/>
<path d="M282.3,620.6 L284.2,623.8 L286.1,626.8 L288.0,629.5 L289.9,631.9 L291.9,634.2 L293.8,636.2 L295.7,637.9 L297.6,639.5 L299.5,640.8 L301.4,642.0 L303.3,643.0 L305.2,643.7 L307.1,644.3 L309.0,644.7 L311.0,644.9 L312.9,645.0 L314.8,644.9 L316.7,644.6 L318.6,644.2 L320.5,643.7 L322.4,643.0 L324.3,642.2 L326.2,641.2 L328.2,640.1 L330.1,638.9 L332.0,637.6 L333.9,636.2 L335.8,634.6 L337.7,633.0 L339.6,631.2 L341.5,629.4 L343.4,627.4 L345.3,625.4 L347.3,623.3 L349.2,621.1 L351.1,618.8 L353.0,616.4 L354.9,614.0 L356.8,611.5 L358.7,608.9 L360.6,606.3 L362.5,603.5 L364.5,600.8 L366.4,597.9 L368.3,595.0 L370.2,592.1 L372.1,589.1 L374.0,586.1 L375.9,583.0 L377.8,579.8 L379.7,576.7 L381.6,573.5 L383.6,570.2 L385.5,566.9 L387.4,563.6 L389.3,560.2 L391.2,556.8 L393.1,553.4 L395.0,549.9 L396.9,546.5 L398.8,543.0 L400.8,539.4 L402.7,535.9 L404.6,532.3 L406.5,528.7 L408.4,525.1 L410.3,521.5 L412.2,517.9 L414.1,514.3 L416.0,510.6 L417.9,506.9 L419.9,503.3 L421.8,499.6 L423.7,495.9 L425.6,492.2 L427.5,488.5 L429.4,484.8 L431.3,481.1 L433.2,477.4 L435.1,473.7 L437.1,470.0 L439.0,466.3 L440.9,462.6 L442.8,458.9 L444.7,455.2 L446.6,451.6 L448.5,447.9 L450.4,444.2 L452.3,440.6 L454.2,436.9 L456.2,433.3 L458.1,429.7 L460.0,426.1 L461.9,422.5 L463.8,418.9 L465.7,415.3 L467.6,411.8 L469.5,408.3 L471.4,404.8 L473.4,401.3 L475.3,397.8 L477.2,394.3 L479.1,390.9 L481.0,387.5 L482.9,384.1 L484.8,380.7 L486.7,377.3 L488.6,374.0 L490.5,370.7 L492.5,367.4 L494.4,364.1 L496.3,360.9 L498.2,357.7 L500.1,354.5 L502.0,351.3 L503.9,348.2 L505.8,345.1 L507.7,342.0 L509.7,338.9 L511.6,335.9 L513.5,332.8 L515.4,329.9 L517.3,326.9 L519.2,324.0 L521.1,321.1 L523.0,318.2 L524.9,315.3 L526.8,312.5 L528.8,309.7 L530.7,307.0 L532.6,304.2 L534.5,301.5 L536.4,298.8 L538.3,296.2 L540.2,293.6 L542.1,291.0 L544.0,288.4 L546.0,285.9 L547.9,283.4 L549.8,280.9 L551.7,278.4 L553.6,276.0 L555.5,273.6 L557.4,271.2 L559.3,268.9 L561.2,266.6 L563.1,264.3 L565.1,262.0 L567.0,259.8 L568.9,257.6 L570.8,255.4 L572.7,253.3 L574.6,251.1 L576.5,249.0 L578.4,247.0 L580.3,244.9 L582.3,242.9 L584.2,240.9 L586.1,238.9 L589.8,235.2 L593.5,231.6 L597.2,228.0 L600.9,224.5 L604.5,221.2 L608.2,217.9 L611.9,214.7 L615.6,211.6 L619.3,208.5 L623.0,205.6 L626.7,202.7 L630.4,199.9 L634.1,197.2 L637.8,194.5 L641.5,191.9 L645.2,189.4 L648.9,186.9 L652.6,184.6 L656.3,182.2 L660.0,180.0 L663.7,177.8 L667.4,175.6 L671.0,173.5 L674.7,171.5 L678.4,169.5 L682.1,167.6 L685.8,165.7 L689.5,163.9 L693.2,162.2 L696.9,160.4 L700.6,158.8 L704.3,157.1 L708.0,155.5 L711.7,154.0 L715.4,152.5 L719.1,151.0 L722.8,149.6 L726.5,148.2 L730.2,146.9 L733.8,145.6 L737.5,144.3 L741.2,143.0 L744.9,141.8 L748.6,140.7 L752.3,139.5 L756.0,138.4 L759.7,137.3 L763.4,136.3 L767.1,135.3 L770.8,134.3 L774.5,133.3 L778.2,132.4 L781.9,131.5 L785.6,130.6 L789.3,129.7 L793.0,128.9 L796.7,128.1 L800.3,127.3 L804.0,126.5 L807.7,125.8 L811.4,125.0 L815.1,124.3 L818.8,123.7 L822.5,123.0 L826.2,122.3 L829.9,121.7 L833.6,121.1 L837.3,120.5 L841.0,119.9 L844.7,119.4 L848.4,118.8 L852.1,118.3 L855.8,117.8 L859.5,117.3 L863.2,116.8 L866.8,116.3 L870.5,115.9 L874.2,115.4 L877.9,115.0 L881.6,114.6 L885.3,114.2 L889.0,113.8 L892.7,113.4 L896.4,113.0 L900.1,112.6 L903.8,112.3 L907.5,111.9 L911.2,111.6 L914.9,111.3 L918.6,111.0 L922.3,110.7 L926.0,110.4 L929.6,110.1 L933.3,109.8 L937.0,109.5 L940.7,109.2 L944.4,109.0 L948.1,108.7 L951.8,108.5 L955.5,108.2 L959.2,108.0 L962.9,107.8 L966.6,107.5 L970.3,107.3 L974.0,107.1 L977.7,106.9 L981.4,106.7 L985.1,106.5 L988.8,106.3 L992.5,106.1 L996.1,105.9 L999.8,105.7 L1003.5,105.6 L1007.2,105.4 L1010.9,105.2 L1014.6,105.1 L1018.3,104.9 L1022.0,104.8 L1025.7,104.6 L1029.4,104.5 L1033.1,104.3 L1036.8,104.2 L1040.5,104.1 L1044.2,103.9 L1047.9,103.8 L1051.6,103.7 L1055.3,103.5 L1059.0,103.4 L1062.6,103.3 L1066.3,103.2 L1070.0,103.1 L1073.7,103.0 L1077.4,102.9 L1081.1,102.8 L1084.8,102.7 L1088.5,102.6 L1092.2,102.5 L1095.9,102.4 L1099.6,102.3 L1103.3,102.2 L1107.0,102.1 L1110.7,102.0 L1114.4,101.9 L1118.1,101.8 L1121.8,101.8 L1125.4,101.7 L1129.1,101.6 L1132.8,101.5 L1136.5,101.4 L1140.2,101.4 L1143.9,101.3 L1147.6,101.2 L1151.3,101.2 L1155.0,101.1 L1158.7,101.0 L1162.4,101.0 L1166.1,100.9 L1169.8,100.8 L1173.5,100.8 L1177.2,100.7 L1180.9,100.7 L1184.6,100.6 L1188.3,100.6 L1191.9,100.5 L1195.6,100.5 L1199.3,100.4 L1203.0,100.4 L1206.7,100.3 L1210.4,100.3 L1214.1,100.2 L1217.8,100.2 L1221.5,100.1 L1225.2,100.1 L1228.9,100.0 L1232.6,100.0 L1236.3,100.0 L1240.0,99.9 L1243.7,99.9 L1247.4,99.8 L1251.1,99.8 L1254.8,99.8 L1258.4,99.7 L1262.1,99.7 L1265.8,99.7 L1269.5,99.6 L1273.2,99.6 L1276.9,99.5 L1280.6,99.5 L1284.3,99.5 L1288.0,99.5 L1291.7,99.4 L1295.4,99.4 L1299.1,99.4 L1302.8,99.3 L1306.5,99.3 L1310.2,99.3 L1313.9,99.3 L1317.6,99.2 L1321.2,99.2 L1330.1,99.1 L1338.9,99.1 L1347.7,99.0 L1356.6,99.0 L1365.4,98.9 L1374.2,98.9 L1383.0,98.8 L1391.9,98.8 L1400.7,98.8 L1409.5,98.7 L1418.3,98.7 L1427.2,98.7 L1436.0,98.6 L1444.8,98.6 L1453.6,98.6 L1462.5,98.5 L1471.3,98.5 L1480.1,98.5 L1488.9,98.5 L1497.8,98.4 L1506.6,98.4 L1515.4,98.4 L1524.2,98.4 L1533.1,98.4 L1541.9,98.3 L1550.7,98.3 L1559.5,98.3 L1568.4,98.3 L1577.2,98.3 L1586.0,98.3 L1594.8,98.2 L1603.7,98.2 L1612.5,98.2 L1621.3,98.2 L1630.1,98.2 L1639.0,98.2 L1647.8,98.2 L1656.6,98.2 L1665.4,98.2 L1674.3,98.1 L1683.1,98.1 L1691.9,98.1 L1700.8,98.1 L1709.6,98.1 L1718.4,98.1 L1727.2,98.1 L1736.1,98.1 L1744.9,98.1 L1753.7,98.1 L1762.5,98.1 L1771.4,98.1 L1780.2,98.1 L1789.0,98.1 L1797.8,98.1 L1806.7,98.1 L1815.5,98.1 L1824.3,98.1 L1833.1,98.0 L1842.0,98.0 L1850.8,98.0 L1859.6,98.0 L1868.4,98.0 L1877.3,98.0 L1886.1,98.0 L1894.9,98.0 L1903.7,98.0 L1912.6,98.0 L1921.4,98.0 L1930.2,98.0 L1939.0,98.0 L1947.9,98.0 L1956.7,98.0 L1965.5,98.0 L1974.3,98.0 L1983.2,98.0 L1992.0,98.0 L2000.8,98.0 L2009.6,98.0 L2018.5,98.0 L2027.3,98.0 L2036.1,98.0 L2045.0,98.0 L2053.8,98.0 L2062.6,98.0 L2071.4,98.0 L2080.3,98.0 L2089.1,98.0 L2097.9,98.0 L2106.7,98.0 L2115.6,98.0 L2124.4,98.0 L2133.2,98.0 L2142.0,98.0 L2150.9,98.0 L2159.7,98.0 L2168.5,98.0 L2177.3,98.0 L2186.2,98.0 L2195.0,98.0 L2203.8,98.0 L2212.6,98.0 L2221.5,98.0 L2230.3,98.0 L2239.1,98.0 L2247.9,98.0 L2256.8,98.0 L2265.6,98.0 L2274.4,98.0 L2283.2,98.0 L2292.1,98.0 L2300.9,98.0 L2309.7,98.0 L2318.5,98.0 L2327.4,98.0 L2336.2,98.0 L2345.0,98.0 L2353.8,98.0 L2362.7,98.0 L2371.5,98.0" stroke="#996633" stroke-width="14"/>
</g>
<g fill="#000" shape-rendering="crispEdges">
<rect x="222" y="51" width="10" height="1761"/>
<rect x="2411" y="51" width="9" height="1761"/>
<rect x="222" y="51" width="2198" height="10"/>
<rect x="222" y="1802" width="2198" height="10"/>
<rect x="266" y="1778" width="10" height="24"/><rect x="266" y="61" width="10" height="24"/>
<rect x="371" y="1789" width="10" height="13"/><rect x="371" y="61" width="10" height="12"/>
<rect x="476" y="1789" width="10" height="13"/><rect x="476" y="61" width="10" height="12"/>
<rect x="581" y="1789" width="10" height="13"/><rect x="581" y="61" width="10" height="12"/>
<rect x="686" y="1789" width="10" height="13"/><rect x="686" y="61" width="10" height="12"/>
<rect x="791" y="1778" width="10" height="24"/><rect x="791" y="61" width="10" height="24"/>
<rect x="896" y="1789" width="10" height="13"/><rect x="896" y="61" width="10" height="12"/>
<rect x="1001" y="1789" width="10" height="13"/><rect x="1001" y="61" width="10" height="12"/>
<rect x="1106" y="1789" width="10" height="13"/><rect x="1106" y="61" width="10" height="12"/>
<rect x="1211" y="1789" width="10" height="13"/><rect x="1211" y="61" width="10" height="12"/>
<rect x="1316" y="1778" width="10" height="24"/><rect x="1316" y="61" width="10" height="24"/>
<rect x="1421" y="1789" width="10" height="13"/><rect x="1421" y="61" width="10" height="12"/>
<rect x="1526" y="1789" width="10" height="13"/><rect x="1526" y="61" width="10" height="12"/>
<rect x="1631" y="1789" width="10" height="13"/><rect x="1631" y="61" width="10" height="12"/>
<rect x="1736" y="1789" width="10" height="13"/><rect x="1736" y="61" width="10" height="12"/>
<rect x="1841" y="1778" width="10" height="24"/><rect x="1841" y="61" width="10" height="24"/>
<rect x="1946" y="1789" width="10" height="13"/><rect x="1946" y="61" width="10" height="12"/>
<rect x="2051" y="1789" width="10" height="13"/><rect x="2051" y="61" width="10" height="12"/>
<rect x="2156" y="1789" width="10" height="13"/><rect x="2156" y="61" width="10" height="12"/>
<rect x="2261" y="1789" width="10" height="13"/><rect x="2261" y="61" width="10" height="12"/>
<rect x="2367" y="1778" width="9" height="24"/><rect x="2367" y="61" width="9" height="24"/>
<rect x="232" y="1760" width="24" height="10"/><rect x="2387" y="1760" width="24" height="10"/>
<rect x="232" y="1656" width="12" height="10"/><rect x="2398" y="1656" width="13" height="10"/>
<rect x="232" y="1552" width="12" height="10"/><rect x="2398" y="1552" width="13" height="10"/>
<rect x="232" y="1447" width="12" height="10"/><rect x="2398" y="1447" width="13" height="10"/>
<rect x="232" y="1343" width="24" height="10"/><rect x="2387" y="1343" width="24" height="10"/>
<rect x="232" y="1239" width="12" height="10"/><rect x="2398" y="1239" width="13" height="10"/>
<rect x="232" y="1135" width="12" height="10"/><rect x="2398" y="1135" width="13" height="10"/>
<rect x="232" y="1031" width="12" height="10"/><rect x="2398" y="1031" width="13" height="10"/>
<rect x="232" y="927" width="24" height="10"/><rect x="2387" y="927" width="24" height="10"/>
<rect x="232" y="822" width="12" height="10"/><rect x="2398" y="822" width="13" height="10"/>
<rect x="232" y="718" width="12" height="10"/><rect x="2398" y="718" width="13" height="10"/>
<rect x="232" y="614" width="12" height="10"/><rect x="2398" y="614" width="13" height="10"/>
<rect x="232" y="510" width="24" height="10"/><rect x="2387" y="510" width="24" height="10"/>
<rect x="232" y="406" width="12" height="10"/><rect x="2398" y="406" width="13" height="10"/>
<rect x="232" y="301" width="12" height="10"/><rect x="2398" y="301" width="13" height="10"/>
<rect x="232" y="197" width="12" height="10"/><rect x="2398" y="197" width="13" height="10"/>
<rect x="232" y="93" width="24" height="10"/><rect x="2387" y="93" width="24" height="10"/>
</g>
<text class="t" transform="translate(270.0,1906.0) scale(1.015,1.03)" text-anchor="middle">0.0</text>
<text class="t" transform="translate(795.1,1906.0) scale(1.015,1.03)" text-anchor="middle">0.5</text>
<text class="t" transform="translate(1320.2,1906.0) scale(1.015,1.03)" text-anchor="middle">1.0</text>
<text class="t" transform="translate(1845.4,1906.0) scale(1.015,1.03)" text-anchor="middle">1.5</text>
<text class="t" transform="translate(2370.5,1906.0) scale(1.015,1.03)" text-anchor="middle">2.0</text>
<text class="t" transform="translate(209.0,1796.5) scale(1.015,1.03)" text-anchor="end">0</text>
<text class="t" transform="translate(209.0,1379.8) scale(1.015,1.03)" text-anchor="end">2</text>
<text class="t" transform="translate(209.0,963.0) scale(1.015,1.03)" text-anchor="end">4</text>
<text class="t" transform="translate(209.0,546.2) scale(1.015,1.03)" text-anchor="end">6</text>
<text class="t" transform="translate(209.0,129.5) scale(1.015,1.03)" text-anchor="end">8</text>
<text class="i" transform="translate(1294.9,2021.1) scale(1.22,1)" font-size="88.5" fill="#000">β</text>
<text class="t" transform="translate(116,927.4) rotate(-90) scale(1.03,1.03)" text-anchor="middle">s</text>
<rect x="55" y="903" width="5" height="54" fill="#000" shape-rendering="crispEdges"/>
<rect x="1785.5" y="1048.5" width="501" height="501" fill="#fff" stroke="#000" stroke-width="3" shape-rendering="crispEdges"/>
<rect x="1866" y="1081" width="53" height="54" fill="#ff00ff" shape-rendering="crispEdges"/><text class="i" transform="translate(2019.2,1133.0) scale(1.03,0.93)" font-size="67" fill="#000">ω</text><text class="l" transform="translate(2066.2,1135.3) scale(1.07,0.885)" style="font-size:67px">=</text><text class="l" transform="translate(2109.9,1133.0) scale(1.015,1.025)">0</text>
<rect x="1866" y="1145" width="53" height="53" fill="#0000ff" shape-rendering="crispEdges"/><text class="i" transform="translate(2019.2,1196.7) scale(1.03,0.93)" font-size="67" fill="#000">ω</text><text class="l" transform="translate(2066.2,1199.0) scale(1.07,0.885)" style="font-size:67px">=</text><text class="l" transform="translate(2109.9,1196.7) scale(1.015,1.025)">2.5</text>
<rect x="1866" y="1208" width="53" height="54" fill="#00aa00" shape-rendering="crispEdges"/><text class="i" transform="translate(2019.2,1260.3) scale(1.03,0.93)" font-size="67" fill="#000">ω</text><text class="l" transform="translate(2066.2,1262.6) scale(1.07,0.885)" style="font-size:67px">=</text><text class="l" transform="translate(2109.9,1260.3) scale(1.015,1.025)">4</text>
<rect x="1866" y="1272" width="53" height="54" fill="#ff0000" shape-rendering="crispEdges"/><text class="i" transform="translate(2019.2,1324.0) scale(1.03,0.93)" font-size="67" fill="#000">ω</text><text class="l" transform="translate(2066.2,1326.3) scale(1.07,0.885)" style="font-size:67px">=</text><text class="l" transform="translate(2109.9,1324.0) scale(1.015,1.025)">4.9</text>
<rect x="1866" y="1336" width="53" height="53" fill="#800080" shape-rendering="crispEdges"/><text class="i" transform="translate(2019.2,1387.7) scale(1.03,0.93)" font-size="67" fill="#000">ω</text><text class="l" transform="translate(2066.2,1390.0) scale(1.07,0.885)" style="font-size:67px">=</text><text class="l" transform="translate(2109.9,1387.7) scale(1.015,1.025)">5.5</text>
<rect x="1866" y="1399" width="53" height="54" fill="#ff8000" shape-rendering="crispEdges"/><text class="i" transform="translate(2019.2,1451.3) scale(1.03,0.93)" font-size="67" fill="#000">ω</text><text class="l" transform="translate(2066.2,1453.6) scale(1.07,0.885)" style="font-size:67px">=</text><text class="l" transform="translate(2109.9,1451.3) scale(1.015,1.025)">6</text>
<rect x="1866" y="1463" width="53" height="54" fill="#996633" shape-rendering="crispEdges"/><text class="i" transform="translate(2019.2,1515.0) scale(1.03,0.93)" font-size="67" fill="#000">ω</text><text class="l" transform="translate(2066.2,1517.3) scale(1.07,0.885)" style="font-size:67px">=</text><text class="l" transform="translate(2109.9,1515.0) scale(1.015,1.025)">8</text>
</svg>
</body></html>
